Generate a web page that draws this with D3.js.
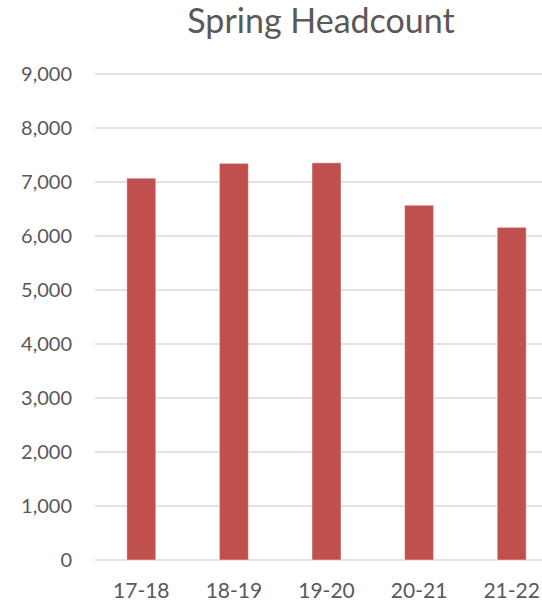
<!DOCTYPE html>
<html>
<head>
<meta charset="utf-8">
<script src="https://cdn.jsdelivr.net/npm/d3@7"></script>
<style>
  body { margin: 0; background: #fff; }
  svg { display: block; }
</style>
</head>
<body>
<div id="chart"></div>
<script>
const categories = ["17-18", "18-19", "19-20", "20-21", "21-22"];
const headcount = [7070, 7345, 7355, 6570, 6160];
const yTicks = [0, 1000, 2000, 3000, 4000, 5000, 6000, 7000, 8000, 9000];
const chartTitle = "Spring Headcount";

const width = 542, height = 606;
const font = "Lato, 'Open Sans', sans-serif";
const textColor = "#595959";

const svg = d3.select("#chart").append("svg")
  .attr("width", width)
  .attr("height", height);

const y = d3.scaleLinear().domain([0, 9000]).range([560, 74]);
// plot runs a bit past the right edge (picture is cropped)
const pad = 0.687;
const x = d3.scaleBand()
  .domain(categories)
  .range([95, 558])
  .paddingInner(pad)
  .paddingOuter(pad / 2);

// gridlines
svg.append("g")
  .selectAll("line")
  .data(yTicks)
  .join("line")
    .attr("x1", 95)
    .attr("x2", width)
    .attr("y1", d => y(d))
    .attr("y2", d => y(d))
    .attr("stroke", "#d9d9d9")
    .attr("stroke-width", 1.3);

// y labels
svg.append("g")
  .selectAll("text")
  .data(yTicks)
  .join("text")
    .attr("x", 72)
    .attr("y", d => y(d))
    .attr("dy", "0.36em")
    .attr("text-anchor", "end")
    .attr("font-family", font)
    .attr("font-size", "20px")
    .attr("fill", textColor)
    .text(d => d3.format(",")(d));

// bars
svg.append("g")
  .selectAll("rect")
  .data(headcount)
  .join("rect")
    .attr("x", (d, i) => x(categories[i]))
    .attr("y", d => y(d))
    .attr("width", x.bandwidth())
    .attr("height", d => y(0) - y(d))
    .attr("fill", "#c0504d")
    .attr("stroke", "rgba(255,255,255,0.45)")
    .attr("stroke-width", 1);

// x labels
svg.append("g")
  .selectAll("text")
  .data(categories)
  .join("text")
    .attr("x", d => x(d) + x.bandwidth() / 2)
    .attr("y", 598)
    .attr("text-anchor", "middle")
    .attr("font-family", font)
    .attr("font-size", "21px")
    .attr("fill", textColor)
    .text(d => d);

svg.append("text")
  .attr("x", 321)
  .attr("y", 33)
  .attr("text-anchor", "middle")
  .attr("font-family", font)
  .attr("font-size", "34px")
  .attr("fill", textColor)
  .text(chartTitle);
</script>
</body>
</html>
